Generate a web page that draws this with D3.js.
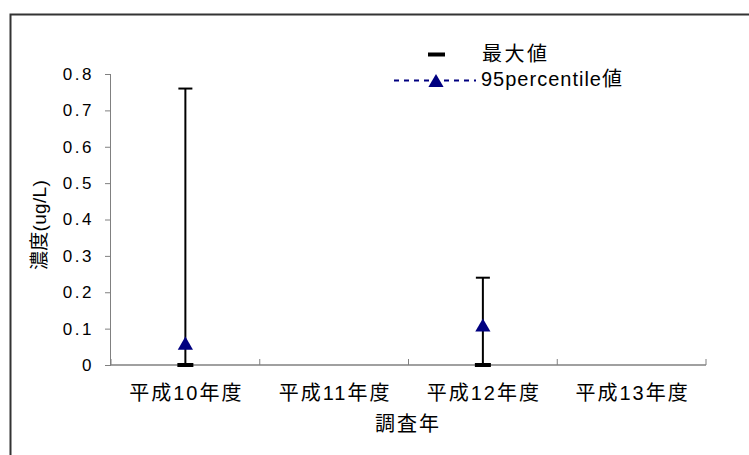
<!DOCTYPE html>
<html>
<head>
<meta charset="utf-8">
<script src="https://cdn.jsdelivr.net/npm/d3@7"></script>
<style>
  html, body { margin: 0; padding: 0; background: #fff; }
  svg text { font-family: "Liberation Sans", Arial, "Noto Sans CJK JP", sans-serif; fill: #000; }
</style>
</head>
<body>
<svg id="chart" width="749" height="455"></svg>
<script>
// Survey years (categories)
const categories = ["平成10年度", "平成11年度", "平成12年度", "平成13年度"];
// Maximum-value series: marker sits at zero, error bar rises to the maximum
const maxMarker = [0, null, 0, null];
const maxValues = [0.76, null, 0.24, null];
// 95th percentile values
const p95Values = [0.06, null, 0.11, null];
// Y axis ticks
const yTicks = [0, 0.1, 0.2, 0.3, 0.4, 0.5, 0.6, 0.7, 0.8];

const svg = d3.select("#chart");
const navy = "#000080";
const plotLeft = 111, plotRight = 706, plotTop = 74, plotBottom = 365;

// Outer frame (runs off the right and bottom edges)
svg.append("path")
  .attr("d", "M10.5,460 V14.5 H760")
  .attr("fill", "none").attr("stroke", "#333").attr("stroke-width", 2);

const x = d3.scaleBand().domain(categories).range([plotLeft, plotRight]).padding(0);
const y = d3.scaleLinear().domain([0, 0.8]).range([plotBottom, plotTop]);

// Y axis
const yAxis = svg.append("g").attr("transform", `translate(${plotLeft},0)`)
  .call(d3.axisLeft(y).tickValues(yTicks).tickSize(6).tickPadding(11)
    .tickFormat(d => d === 0 ? "0" : d3.format(".1f")(d)));
yAxis.select(".domain").attr("stroke", "#808080").attr("d", `M-0.5,${plotTop}V${plotBottom}`);
yAxis.selectAll(".tick line").attr("stroke", "#808080");
yAxis.selectAll("text").style("font-size", "17px").attr("letter-spacing", "2.5px");

// X axis with category boundary ticks pointing up
const xg = svg.append("g").attr("transform", `translate(0,${plotBottom})`);
xg.append("line").attr("x1", plotLeft).attr("x2", plotRight).attr("y1", 0).attr("y2", 0)
  .attr("stroke", "#808080").attr("stroke-width", 1.5);
const bounds = categories.map(c => x(c)).concat([plotRight]);
xg.selectAll("line.bt").data(bounds).join("line").attr("class", "bt")
  .attr("x1", d => d).attr("x2", d => d).attr("y1", 0).attr("y2", -6)
  .attr("stroke", "#808080");
xg.selectAll("text").data(categories).join("text")
  .attr("x", d => x(d) + x.bandwidth() / 2 + 1).attr("y", 35)
  .attr("text-anchor", "middle").style("font-size", "20px")
  .attr("letter-spacing", "2px")
  .text(d => d);

// Axis titles
svg.append("text").attr("x", 408).attr("y", 431).attr("text-anchor", "middle")
  .style("font-size", "20px").attr("letter-spacing", "2px").text("調査年");
svg.append("text").attr("transform", "translate(46,225) rotate(-90)")
  .attr("text-anchor", "middle").style("font-size", "19px")
  .attr("letter-spacing", "0.3px").text("濃度(ug/L)");

const cx = i => x(categories[i]) + x.bandwidth() / 2;
const idx = d3.range(categories.length);

// Error bars up to the maximum value
const eb = svg.append("g");
idx.filter(i => maxValues[i] != null).forEach(i => {
  eb.append("line").attr("x1", cx(i)).attr("x2", cx(i))
    .attr("y1", y(maxMarker[i])).attr("y2", y(maxValues[i]))
    .attr("stroke", "#000").attr("stroke-width", 2);
  eb.append("line").attr("x1", cx(i) - 7).attr("x2", cx(i) + 7)
    .attr("y1", y(maxValues[i])).attr("y2", y(maxValues[i]))
    .attr("stroke", "#000").attr("stroke-width", 2);
});

// Maximum-value dash markers
svg.append("g").selectAll("rect").data(idx.filter(i => maxMarker[i] != null)).join("rect")
  .attr("x", i => cx(i) - 8).attr("y", i => y(maxMarker[i]) - 2)
  .attr("width", 16).attr("height", 4).attr("fill", "#000");

// 95th percentile triangles, centred on their bounding box
const triSize = 100;
const triR = Math.sqrt(triSize / (3 * Math.sqrt(3)));
const tri = d3.symbol().type(d3.symbolTriangle).size(triSize);
svg.append("g").selectAll("path").data(idx.filter(i => p95Values[i] != null)).join("path")
  .attr("d", tri)
  .attr("transform", i => `translate(${cx(i)},${y(p95Values[i]) + triR / 2})`)
  .attr("fill", navy);

// Legend
const lg = svg.append("g");
lg.append("rect").attr("x", 428).attr("y", 52.5).attr("width", 17).attr("height", 4).attr("fill", "#000");
lg.append("text").attr("x", 482).attr("y", 61).style("font-size", "20px")
  .attr("letter-spacing", "2.5px").text("最大値");
lg.append("line").attr("x1", 394).attr("x2", 476).attr("y1", 80.5).attr("y2", 80.5)
  .attr("stroke", navy).attr("stroke-width", 2).attr("stroke-dasharray", "5,5");
lg.append("path").attr("d", tri).attr("transform", `translate(436,${80.5 + triR / 2})`).attr("fill", navy);
lg.append("text").attr("x", 481).attr("y", 86).style("font-size", "20px")
  .attr("letter-spacing", "1px").text("95percentile値");
</script>
</body>
</html>
